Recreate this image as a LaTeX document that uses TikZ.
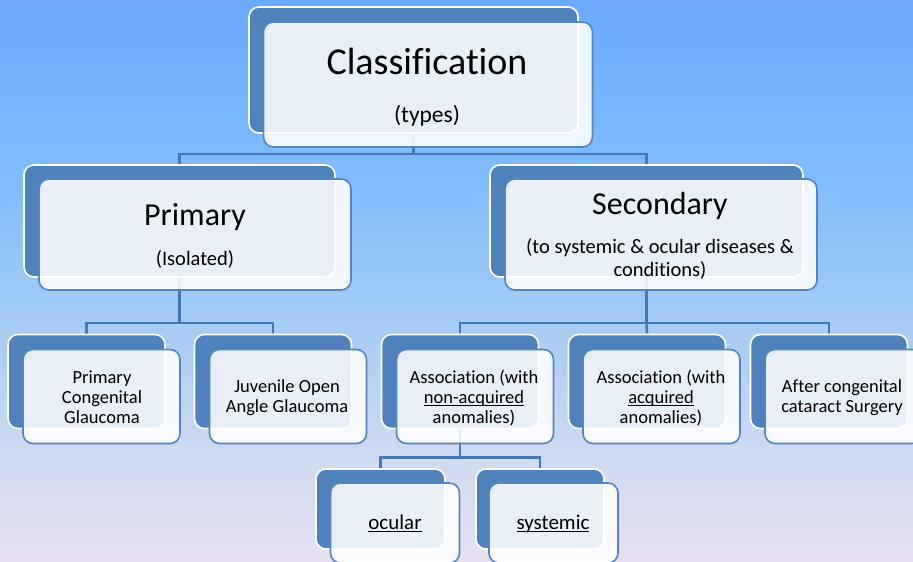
\documentclass[tikz,border=0pt]{standalone}
\usepackage{fontspec}
\setmainfont[Ligatures=NoCommon]{Carlito}
\definecolor{sky0}{RGB}{106,170,255}
\definecolor{sky1}{RGB}{128,188,252}
\definecolor{sky2}{RGB}{168,204,243}
\definecolor{sky3}{RGB}{205,218,240}
\definecolor{sky4}{RGB}{232,224,242}
\definecolor{boxblue}{RGB}{79,129,189}
\definecolor{edgeblue}{RGB}{84,133,195}
\definecolor{linkblue}{RGB}{70,118,180}
\newcommand{\ulfix}[1]{\setbox0=\hbox{#1}\rlap{\rule[-0.15em]{\wd0}{0.06em}}\box0}
\pgfdeclarelayer{sky}
\pgfdeclarelayer{links}
\pgfsetlayers{sky,links,main}
\tikzset{
  backbox/.style={draw=white, line width=1.6pt, fill=boxblue, rounded corners=10pt, inner sep=0pt},
  frontbox/.style={draw=edgeblue, line width=1.6pt, fill=white, fill opacity=0.88, rounded corners=10pt, inner sep=0pt},
  link/.style={draw=linkblue, line width=2.5pt},
  lbl/.style={anchor=base, inner sep=0pt, text=black},
  fhuge/.style={font=\fontsize{38}{40}\selectfont},
  fbig/.style={font=\fontsize{32}{34}\selectfont},
  fmid/.style={font=\fontsize{23.5}{26}\selectfont},
  fsub/.style={font=\fontsize{20.5}{23}\selectfont},
  fleaf/.style={font=\fontsize{21}{23}\selectfont},
  fsmall/.style={font=\fontsize{18.5}{20}\selectfont},
  lvthree/.style={minimum width=157pt, minimum height=94pt},
  lvfour/.style={minimum height=80pt},
}
\begin{document}
\begin{tikzpicture}[x=1pt,y=-1pt]
\useasboundingbox (0,0) rectangle (913,562);
\clip (0,0) rectangle (913,562);

% background gradient
\begin{pgfonlayer}{sky}
  \shade[top color=sky0, bottom color=sky1] (0,-1) rectangle (913,180.5);
  \shade[top color=sky1, bottom color=sky2] (0,180) rectangle (913,330.5);
  \shade[top color=sky2, bottom color=sky3] (0,330) rectangle (913,450.5);
  \shade[top color=sky3, bottom color=sky4] (0,450) rectangle (913,563);
\end{pgfonlayer}

% level 1
\node[backbox, minimum width=329pt, minimum height=126pt] (clsB) at (413.5,70) {};
\node[frontbox, minimum width=329pt, minimum height=125pt] (clsF) at (428,84.5) {};

% level 2
\node[backbox, minimum width=311pt, minimum height=112pt] (priB) at (179.5,221) {};
\node[frontbox, minimum width=312pt, minimum height=111pt] (priF) at (195,234.5) {};
\node[backbox, minimum width=313pt, minimum height=112pt] (secB) at (646.5,221) {};
\node[frontbox, minimum width=312pt, minimum height=111pt] (secF) at (661,234.5) {};

% level 3
\node[backbox, lvthree] (pcgB) at (86.5,381.5) {};
\node[frontbox, lvthree] (pcgF) at (101.5,396.5) {};
\node[backbox, lvthree] (joagB) at (273,381.5) {};
\node[frontbox, lvthree] (joagF) at (288,396.5) {};
\node[backbox, lvthree] (nacB) at (460,381.5) {};
\node[frontbox, lvthree] (nacF) at (475,396.5) {};
\node[backbox, lvthree] (acqB) at (647,381.5) {};
\node[frontbox, lvthree] (acqF) at (661.5,396.5) {};
\node[backbox, lvthree] (aftB) at (829,381.5) {};
\node[frontbox, lvthree] (aftF) at (843.5,396.5) {};

% level 4
\node[backbox, lvfour, minimum width=129pt] (ocuB) at (380.5,509) {};
\node[frontbox, lvfour, minimum width=129pt] (ocuF) at (395,523) {};
\node[backbox, lvfour, minimum width=128pt] (sysB) at (540,509) {};
\node[frontbox, lvfour, minimum width=129pt] (sysF) at (553.5,523) {};

% connectors
\begin{pgfonlayer}{links}
  \draw[link] (clsB.south) -- ++(0,20) coordinate (j1) -| (priB.north);
  \draw[link] (j1) -| (secB.north);
  \draw[link] (priB.south) -- ++(0,45) coordinate (j2) -| (pcgB.north);
  \draw[link] (j2) -| (joagB.north);
  \draw[link] (secB.south) -- ++(0,45) coordinate (j3) -| (nacB.north);
  \draw[link] (j3) -| (aftB.north);
  \draw[link] (j3) -- (acqB.north);
  \draw[link] (nacB.south) -- ++(0,28) coordinate (j4) -| (ocuB.north);
  \draw[link] (j4) -| (sysB.north);
\end{pgfonlayer}

% labels
\node[lbl, fhuge] (tcls) at (427,74) {Classification};
\node[lbl, fmid] (ttypes) at (427,122) {(types)};

\node[lbl, fbig] (tpri) at (195,225.5) {Primary};
\node[lbl, fsub] (tiso) at (195,265) {(Isolated)};

\node[lbl, fbig] (tsec) at (660,214) {Secondary};
\node[lbl, fsub] (tseca) at (660,253) {(to systemic \& ocular diseases \&};
\node[lbl, fsub] (tsecb) at (660,276) {conditions)};

\node[lbl, fsmall] (tpcga) at (102,383) {Primary};
\node[lbl, fsmall] (tpcgb) at (102,403) {Congenital};
\node[lbl, fsmall] (tpcgc) at (102,423) {Glaucoma};

\node[lbl, fsmall] (tjoaga) at (287,392) {Juvenile Open};
\node[lbl, fsmall] (tjoagb) at (287,412) {Angle Glaucoma};

\node[lbl, fsmall] (tnaca) at (474,383) {Association (with};
\node[lbl, fsmall] (tnacb) at (474,403) {\ulfix{non-acquired}};
\node[lbl, fsmall] (tnacc) at (474,423) {anomalies)};

\node[lbl, fsmall] (tacqa) at (661,383) {Association (with};
\node[lbl, fsmall] (tacqb) at (661,403) {\ulfix{acquired}};
\node[lbl, fsmall] (tacqc) at (661,423) {anomalies)};

\node[lbl, fsmall] (tafta) at (842,392) {After congenital};
\node[lbl, fsmall] (taftb) at (842,412) {cataract Surgery};

\node[lbl, fleaf] (tocu) at (395,529) {\ulfix{ocular}};
\node[lbl, fleaf] (tsys) at (553,529) {\ulfix{systemic}};
\end{tikzpicture}
\end{document}
